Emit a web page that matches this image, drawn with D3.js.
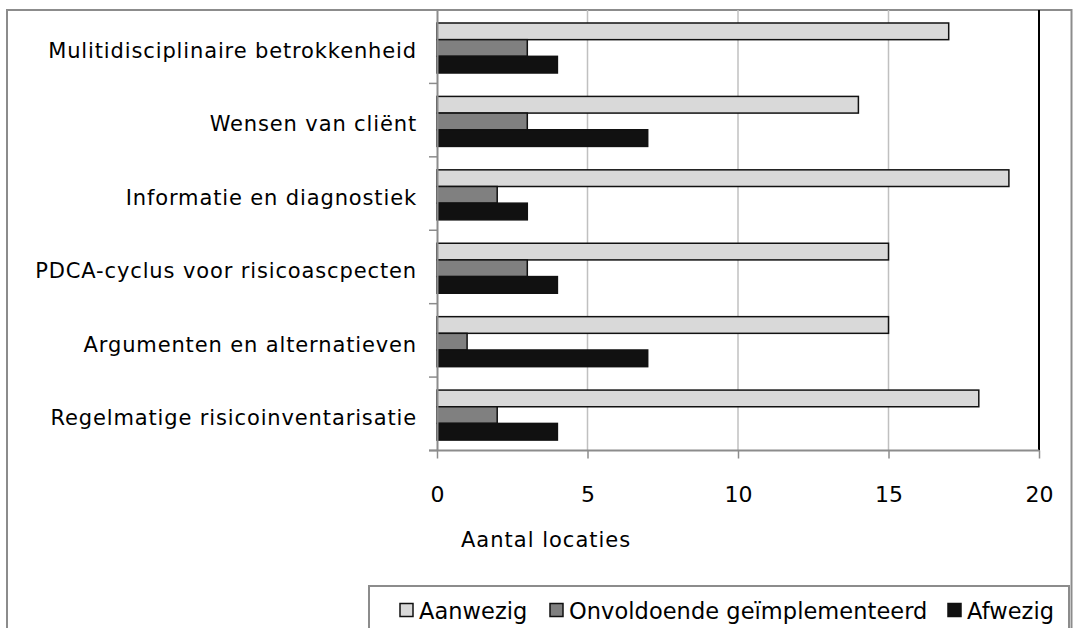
<!DOCTYPE html>
<html><head><meta charset="utf-8">
<script src="https://cdn.jsdelivr.net/npm/d3@7"></script>
<style>body{margin:0;background:#fff}svg{display:block}text{font-family:"DejaVu Sans",Verdana,sans-serif;fill:#000}</style>
</head><body>
<svg id="c" width="1073" height="628"></svg>
<script>
const categories = ["Mulitidisciplinaire betrokkenheid","Wensen van cliënt","Informatie en diagnostiek","PDCA-cyclus voor risicoascpecten","Argumenten en alternatieven","Regelmatige risicoinventarisatie"];
const seriesNames = ["Aanwezig","Onvoldoende geïmplementeerd","Afwezig"];
const aanwezig = [17,14,19,15,15,18];
const onvoldoende = [3,3,2,3,1,2];
const afwezig = [4,7,3,4,7,4];
const xTicks = [0,5,10,15,20];
const axisTitle = "Aantal locaties";
const colors = ["#d9d9d9","#808080","#111111"];
const series = [aanwezig, onvoldoende, afwezig];

const svg = d3.select("#c");
const L=437, R=1039, T=10, B=450.5;
const x = d3.scaleLinear().domain([0,20]).range([L,R]);
const y = d3.scaleBand().domain(categories).range([T,B]).paddingInner(0).paddingOuter(0);
const inner = d3.scaleBand().domain([0,1,2]).range([13, 13+50]);

// outer border
svg.append("rect").attr("x",7).attr("y",10).attr("width",1064.5).attr("height",640)
  .attr("fill","none").attr("stroke","#8c8c8c").attr("stroke-width",2);

// gridlines
svg.append("g").selectAll("line").data(xTicks.filter(d=>d>0&&d<20)).join("line")
  .attr("x1",d=>x(d)).attr("x2",d=>x(d)).attr("y1",T).attr("y2",B)
  .attr("stroke","#c0c0c0").attr("stroke-width",1.5);

// right border of plot
svg.append("line").attr("x1",R).attr("x2",R).attr("y1",T).attr("y2",B).attr("stroke","#000").attr("stroke-width",2);

// bars
const g = svg.append("g");
categories.forEach((c,i)=>{
  series.forEach((s,j)=>{
    g.append("rect").attr("x",x(0)).attr("y",y(c)+inner(j)).attr("width",x(s[i])-x(0)).attr("height",inner.bandwidth())
      .attr("fill",colors[j]).attr("stroke","#111").attr("stroke-width",1.5);
  });
});

// axes
const xAxis = d3.axisBottom(x).tickValues(xTicks).tickSize(8).tickPadding(0).tickFormat(d3.format("d"));
const xa = svg.append("g").attr("transform",`translate(0,${B})`).call(xAxis);
xa.select(".domain").attr("stroke","#8c8c8c").attr("stroke-width",2).attr("d",`M${L-8},0H${R}`);
xa.selectAll(".tick line").attr("stroke","#8c8c8c").attr("stroke-width",1.5);
xa.selectAll(".tick text").attr("font-size",22).attr("font-family","DejaVu Sans").attr("dy",null).attr("y",51);

const yAxis = d3.axisLeft(y).tickSize(0).tickPadding(20);
const ya = svg.append("g").attr("transform",`translate(${L},0)`).call(yAxis);
ya.select(".domain").attr("stroke","#8c8c8c").attr("stroke-width",2);
ya.selectAll(".tick text").attr("font-size",21).attr("font-family","DejaVu Sans").attr("letter-spacing",0.87).attr("dy","0.54em");
// category boundary ticks
svg.append("g").selectAll("line").data(d3.range(categories.length+1)).join("line")
  .attr("x1",L-8).attr("x2",L).attr("y1",d=>T+d*y.step()).attr("y2",d=>T+d*y.step())
  .attr("stroke","#8c8c8c").attr("stroke-width",1.5);

svg.append("text").attr("x",461).attr("y",547).attr("font-size",21).attr("letter-spacing",1.0).text(axisTitle);

// legend
svg.append("rect").attr("x",369).attr("y",586).attr("width",700).attr("height",60).attr("fill","#fff").attr("stroke","#8c8c8c").attr("stroke-width",2);
const legX = [400, 550, 948];
const lg = svg.append("g");
seriesNames.forEach((n,j)=>{
  lg.append("rect").attr("x",legX[j]).attr("y",603.5).attr("width",13).attr("height",13).attr("fill",colors[j]).attr("stroke","#111").attr("stroke-width",1.5);
  lg.append("text").attr("x",legX[j]+19).attr("y",619).attr("font-size",22.5).attr("letter-spacing",0.05).text(n);
});
</script>
</body></html>
